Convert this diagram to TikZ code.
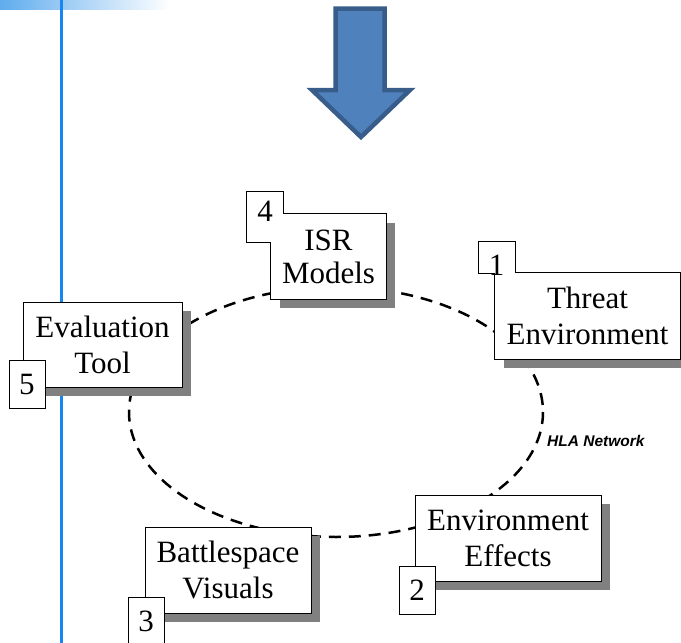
\documentclass[tikz,border=0pt]{standalone}
\usepackage{fontspec}
\setmainfont{Liberation Serif}
\newfontfamily\labelsans{Liberation Sans}
\usetikzlibrary{shadows}
\definecolor{arrowfill}{RGB}{79,129,189}
\definecolor{arrowedge}{RGB}{56,93,138}
\definecolor{shadowgray}{RGB}{128,128,128}
\definecolor{railblue}{RGB}{24,134,240}
\definecolor{bandblue}{RGB}{95,172,238}
\tikzset{
  x=1pt, y=-1pt,
  boxtext/.style={font=\fontsize{31}{36}\selectfont},
  mainbox/.style={draw=black, line width=1pt, fill=white, align=center,
    inner sep=0pt, boxtext,
    drop shadow={shadow xshift=9pt, shadow yshift=-9pt, fill=shadowgray, opacity=1}},
  numbox/.style={draw=black, line width=1pt, fill=white, inner sep=0pt,
    minimum width=36pt, minimum height=48pt, boxtext},
  outline/.style={draw=black, line width=1pt},
  ring/.style={line width=2.5pt, dash pattern=on 12pt off 8pt},
}
\begin{document}
\begin{tikzpicture}
\useasboundingbox (0,0) rectangle (681,643);
% header band and left rail
\shade[left color=bandblue, right color=white] (0,0) rectangle (170,9);
\draw[railblue, line width=3pt] (61,0) -- (61,643);

% big down arrow
\draw[fill=arrowfill, draw=arrowedge, line width=4.5pt, line join=miter]
  (335.5,8.5) -- (384.5,8.5) -- (384.5,90) -- (410,90) -- (361,137)
  -- (312,90) -- (335.5,90) -- cycle;

% HLA network ring
\draw[ring] (336,412) ellipse [x radius=207, y radius=125];
\node[anchor=base west, inner sep=0pt, font=\labelsans\bfseries\itshape\fontsize{15.5}{18}\selectfont]
  (hla) at (547,446) {HLA Network};

% upper components: tag and box share one outline
\node[mainbox, draw=none, minimum width=115pt, minimum height=85pt, font=\fontsize{31}{33}\selectfont]
  (isr) at (328.5,256.5) {ISR\\Models};
\node[numbox, draw=none, minimum height=50pt] (n4) at (265,217) {};
\node[boxtext, inner sep=0pt] (d4) at (265,211) {4};
\draw[outline] (n4.north west) -- (n4.north east) -- (n4.east |- isr.north)
  -- (isr.north east) -- (isr.south east) -- (isr.south west)
  -- (isr.west |- n4.south) -- (n4.south west) -- cycle;

\node[mainbox, draw=none, minimum width=185pt, minimum height=86pt]
  (threat) at (587.5,316) {Threat\\Environment};
\node[numbox, draw=none, minimum height=31pt] (n1) at (496.5,257.5) {};
\node[boxtext, inner sep=0pt] (d1) at (496.5,265) {1};
\draw[outline] (n1.north west) -- (n1.north east) -- (n1.east |- threat.north)
  -- (threat.north east) -- (threat.south east) -- (threat.south west)
  -- (threat.west |- n1.south) -- (n1.south west) -- cycle;

% lower components: tag drawn over the box
\node[mainbox, minimum width=159pt, minimum height=85pt]
  (eval) at (102.5,344.5) {Evaluation\\Tool};
\node[mainbox, minimum width=186pt, minimum height=86pt]
  (enveff) at (508,538) {Environment\\Effects};
\node[mainbox, minimum width=166pt, minimum height=86pt]
  (battle) at (228,570) {Battlespace\\Visuals};

\node[numbox] (n5) at (27,384) {5};
\node[numbox] (n2) at (417,590.5) {2};
\node[numbox] (n3) at (146,621.5) {3};
\end{tikzpicture}
\end{document}
